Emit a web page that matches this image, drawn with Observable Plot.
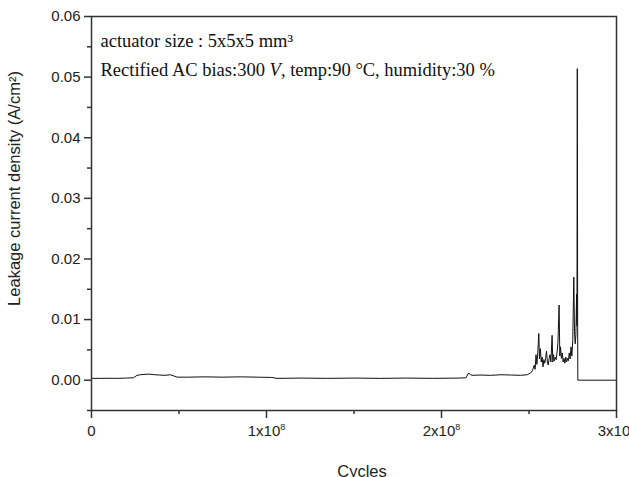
<!DOCTYPE html>
<html>
<head>
<meta charset="utf-8">
<script src="https://cdn.jsdelivr.net/npm/d3@7"></script>
<script src="https://cdn.jsdelivr.net/npm/@observablehq/plot@0.6"></script>
<style>
  html, body { margin: 0; padding: 0; background: #fff; }
  #chart svg { display: block; }
</style>
</head>
<body>
<div id="chart"></div>
<script>
// Cycles in units of 1e8
const cycles = [
  0, 0.05, 0.1, 0.15, 0.2, 0.24, 0.26, 0.28, 0.3, 0.33, 0.36, 0.39, 0.42, 0.45, 0.47, 0.49,
  0.55, 0.65, 0.75, 0.85, 0.95, 1.03, 1.06, 1.2, 1.35, 1.5, 1.65, 1.8, 1.95, 2.1, 2.14,
  2.155, 2.165, 2.18, 2.22, 2.28, 2.34, 2.4, 2.45, 2.49, 2.51, 2.52, 2.53, 2.535, 2.54, 2.545,
  2.55, 2.556, 2.56, 2.565, 2.57, 2.575, 2.58, 2.585, 2.59, 2.595, 2.6, 2.605, 2.61, 2.615,
  2.62, 2.625, 2.632, 2.636, 2.64, 2.645, 2.65, 2.655, 2.66, 2.665, 2.672, 2.676, 2.68, 2.685,
  2.69, 2.695, 2.7, 2.705, 2.71, 2.715, 2.72, 2.725, 2.73, 2.735, 2.74, 2.745, 2.75, 2.756,
  2.76, 2.764, 2.768, 2.772, 2.774, 2.776, 2.778, 2.779, 2.8, 3.0
];
// Leakage current density (A/cm^2)
const density = [
  0.0003, 0.0003, 0.00032, 0.0003, 0.00035, 0.0004, 0.0008, 0.0009, 0.00095, 0.001, 0.0009, 0.00085, 0.0008, 0.0009, 0.0007, 0.0005,
  0.0005, 0.00055, 0.0005, 0.00055, 0.0005, 0.00045, 0.0003, 0.00035, 0.0003, 0.00035, 0.0003, 0.00035, 0.0003, 0.00035, 0.0004,
  0.0012, 0.0009, 0.0008, 0.00085, 0.0008, 0.0009, 0.00085, 0.0008, 0.0009, 0.0012, 0.0016, 0.0025, 0.0018, 0.0042, 0.0026,
  0.0045, 0.0077, 0.0035, 0.0052, 0.003, 0.0038, 0.0022, 0.0034, 0.0028, 0.0036, 0.0048, 0.003, 0.0025, 0.0036,
  0.0042, 0.003, 0.0074, 0.003, 0.0042, 0.0032, 0.0038, 0.0034, 0.0045, 0.006, 0.0124, 0.004, 0.0055, 0.0036,
  0.0045, 0.003, 0.0036, 0.0028, 0.0038, 0.003, 0.0036, 0.0032, 0.0045, 0.0035, 0.0055, 0.004, 0.0065, 0.017,
  0.008, 0.006, 0.0075, 0.0142, 0.009, 0.0514, 0.01, 0, 0, 0
];
const yTicks = [0, 0.01, 0.02, 0.03, 0.04, 0.05, 0.06];
const yMinorTicks = [-0.005, 0.005, 0.015, 0.025, 0.035, 0.045, 0.055];
const xTicks = [0, 1, 2, 3];
const xMinorTicks = [0.5, 1.5, 2.5];
const xTickLabels = ["0", "1x10^8", "2x10^8", "3x10^8"];
const yLabel = "Leakage current density (A/cm²)";
const xLabel = "Cycles";
const annoLine1 = "actuator size : 5x5x5 mm³";
const annoLine2 = "Rectified AC bias:300 V, temp:90 °C, humidity:30 %";

const data = cycles.map((c, i) => ({cycles: c, density: density[i]}));

const serif = "'Liberation Serif', 'Times New Roman', serif";

const chart = Plot.plot({
  width: 629,
  height: 477,
  marginLeft: 91,
  marginRight: 13,
  marginTop: 16,
  marginBottom: 67,
  x: {domain: [0, 3]},
  y: {domain: [-0.005, 0.06]},
  style: {fontFamily: "'Liberation Sans', Arial, sans-serif", fontSize: "15px", color: "#222", background: "#fff"},
  marks: [
    Plot.line(data, {x: "cycles", y: "density", stroke: "#111", strokeWidth: 1}),
    Plot.frame({stroke: "#333", strokeWidth: 1.5}),
    Plot.axisY(yTicks, {tickSize: 7, tickPadding: 4, tickFormat: d => d.toFixed(2), label: null, stroke: "#333", strokeWidth: 1.5}),
    Plot.axisY(yMinorTicks, {tickSize: 4, tickFormat: () => "", label: null, stroke: "#333", strokeWidth: 1.5}),
    Plot.axisX(xTicks, {tickSize: 8, tickPadding: 7, tickFormat: (d, i) => xTickLabels[i], label: null, stroke: "#333", strokeWidth: 1.5}),
    Plot.axisX(xMinorTicks, {tickSize: 4, tickFormat: () => "", label: null, stroke: "#333", strokeWidth: 1.5}),
    Plot.text([yLabel], {frameAnchor: "left", rotate: -90, dx: -77, dy: -25, text: d => d, fontSize: 16.5, textAnchor: "middle", fill: "#222"}),
    Plot.text([xLabel], {frameAnchor: "bottom", dx: 8, dy: 66.5, text: d => d, fontSize: 16.5, lineAnchor: "bottom", fill: "#222"}),
    Plot.text([annoLine1], {frameAnchor: "top-left", dx: 9, dy: 30, text: d => d, lineAnchor: "bottom", textAnchor: "start", fontSize: 18.5, fontFamily: serif, fill: "#111"}),
    Plot.text([annoLine2], {frameAnchor: "top-left", dx: 9, dy: 59, text: d => d, lineAnchor: "bottom", textAnchor: "start", fontSize: 18.5, fontFamily: serif, fill: "#111", className: "anno2"})
  ]
});

// Superscript exponents in x tick labels
d3.select(chart).selectAll("text").each(function() {
  const t = this.textContent;
  if (t.includes("^")) {
    const [base, exp] = t.split("^");
    const sel = d3.select(this);
    sel.text(null);
    sel.append("tspan").text(base);
    sel.append("tspan").attr("font-size", "9px").attr("dy", "-0.7em").text(exp);
  }
});
// Italic V in annotation
d3.select(chart).selectAll(".anno2 text").each(function() {
  const sel = d3.select(this);
  sel.text(null);
  sel.append("tspan").text("Rectified AC bias:300 ");
  sel.append("tspan").attr("font-style", "italic").text("V");
  sel.append("tspan").text(", temp:90 °C, humidity:30 %");
});

document.getElementById("chart").append(chart);
</script>
</body>
</html>
